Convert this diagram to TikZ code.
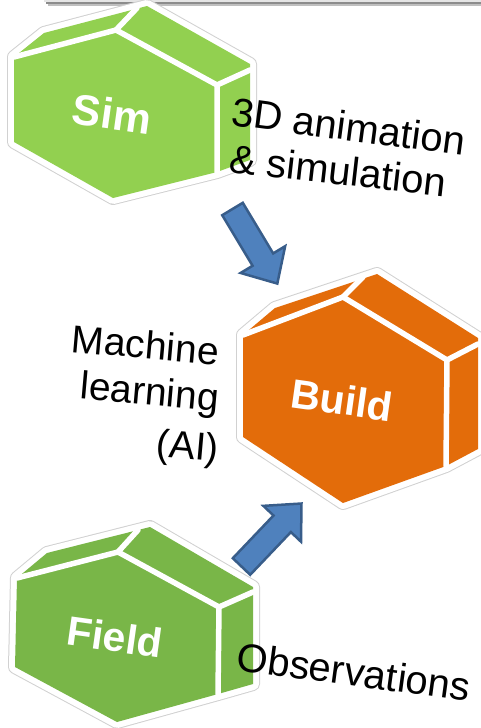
\documentclass[tikz,border=0pt]{standalone}
\usepackage{fontspec}
\setmainfont{Liberation Sans}
\definecolor{simgreen}{HTML}{92D050}
\definecolor{fieldgreen}{HTML}{79B648}
\definecolor{buildorange}{HTML}{E36C0A}
\definecolor{arrowfill}{HTML}{4F81BD}
\definecolor{arrowdraw}{HTML}{385D8A}
\tikzset{
  boxrim/.style={draw=black!18, line width=14pt, line join=round},
  boxwhite/.style={draw=white, line width=12pt, line join=round},
  boxedge/.style={draw=white, line width=5.5pt, line cap=round},
  blockarrow/.style={fill=arrowfill, draw=arrowdraw, line width=2.5pt, line join=miter},
  boxlabel/.style={text=white, font=\bfseries\fontsize{41}{41}\selectfont, rotate=-8, inner sep=0pt},
  caption/.style={font=\fontsize{40}{46}\selectfont, inner sep=0pt},
}
\newcommand{\arrowpoly}{(0,-12) -- (59,-12) -- (59,-26) -- (87,0) -- (59,26) -- (59,12) -- (0,12) -- cycle}
\begin{document}
\begin{tikzpicture}[x=1pt,y=-1pt]
\useasboundingbox (0,0) rectangle (481,728);
% top bar with shadow
\fill[black!45] (46,1.5) rectangle (481,4);
\fill[black!25] (48,4) rectangle (481,5.5);
\fill[black!10] (44,-2) rectangle (481,2);

% ---- Sim box ----
\coordinate (sA) at (14,57); \coordinate (sB) at (44,33); \coordinate (sC) at (147,6);
\coordinate (sD) at (250,64); \coordinate (sE) at (250,160); \coordinate (sJ) at (217,172);
\coordinate (sF) at (113,198); \coordinate (sG) at (14,142);
\coordinate (sH) at (116,30); \coordinate (sT) at (137,8); \coordinate (sI) at (217,85); \coordinate (sK) at (250,70);
\draw[boxrim] (sA) -- (sB) -- (sC) -- (sD) -- (sE) -- (sJ) -- (sF) -- (sG) -- cycle;
\draw[boxwhite] (sA) -- (sB) -- (sC) -- (sD) -- (sE) -- (sJ) -- (sF) -- (sG) -- cycle;
\fill[simgreen] (sA) -- (sB) -- (sC) -- (sD) -- (sE) -- (sJ) -- (sF) -- (sG) -- cycle;
\draw[boxedge] (sA) -- (sH) -- (sI) -- (sJ);
\draw[boxedge] (sH) -- (sT);
\draw[boxedge] (sI) -- (sK);
\node[boxlabel, font=\bfseries\fontsize{43}{43}\selectfont] (sim) at (112,114) {Sim};

% ---- Build box ----
\coordinate (bA) at (243,335); \coordinate (bB) at (275,308); \coordinate (bC) at (377,274);
\coordinate (bD) at (478,338); \coordinate (bE) at (478,449); \coordinate (bJ) at (446,466);
\coordinate (bF) at (343,503); \coordinate (bG) at (243,437);
\coordinate (bH) at (343,297); \coordinate (bT) at (363,277); \coordinate (bI) at (447,360); \coordinate (bK) at (478,344);
\draw[boxrim] (bA) -- (bB) -- (bC) -- (bD) -- (bE) -- (bJ) -- (bF) -- (bG) -- cycle;
\draw[boxwhite] (bA) -- (bB) -- (bC) -- (bD) -- (bE) -- (bJ) -- (bF) -- (bG) -- cycle;
\fill[buildorange] (bA) -- (bB) -- (bC) -- (bD) -- (bE) -- (bJ) -- (bF) -- (bG) -- cycle;
\draw[boxedge] (bA) -- (bH) -- (bI) -- (bJ);
\draw[boxedge] (bH) -- (bT);
\draw[boxedge] (bI) -- (bK);
\node[boxlabel] (build) at (342,400) {Build};

% ---- Field box ----
\coordinate (fA) at (17,578); \coordinate (fB) at (47,553); \coordinate (fC) at (150,527);
\coordinate (fD) at (253,587); \coordinate (fE) at (253,684); \coordinate (fJ) at (218,694);
\coordinate (fF) at (117,722); \coordinate (fG) at (15,667);
\coordinate (fH) at (118,552); \coordinate (fT) at (138,530); \coordinate (fI) at (219,607); \coordinate (fK) at (253,592);
\draw[boxrim] (fA) -- (fB) -- (fC) -- (fD) -- (fE) -- (fJ) -- (fF) -- (fG) -- cycle;
\draw[boxwhite] (fA) -- (fB) -- (fC) -- (fD) -- (fE) -- (fJ) -- (fF) -- (fG) -- cycle;
\fill[fieldgreen] (fA) -- (fB) -- (fC) -- (fD) -- (fE) -- (fJ) -- (fF) -- (fG) -- cycle;
\draw[boxedge] (fA) -- (fH) -- (fI) -- (fJ);
\draw[boxedge] (fH) -- (fT);
\draw[boxedge] (fI) -- (fK);
\node[boxlabel] (field) at (115,637) {Field};

% ---- block arrows ----
\coordinate (downtail) at (232.5,209);
\coordinate (uptail) at (241.5,566.5);
\draw[blockarrow, shift={(downtail)}, rotate=-59] \arrowpoly;
\draw[blockarrow, shift={(uptail)}, rotate=46.4] \arrowpoly;

% ---- captions ----
\node[caption, anchor=base west, rotate=-7.5] (anim1) at (230,125) {3D animation};
\node[caption, anchor=base west, rotate=-6.5] (anim2) at (228,172) {\& simulation};
\node[caption, anchor=base east, rotate=-5, font=\fontsize{39}{45}\selectfont] (ml1) at (218,365) {Machine};
\node[caption, anchor=base east, rotate=-5, font=\fontsize{39}{45}\selectfont] (ml2) at (218,411) {learning};
\node[caption, anchor=base east, rotate=-5, font=\fontsize{39}{45}\selectfont] (ml3) at (218,462) {(AI)};
\node[caption, anchor=base west, rotate=-7.7] (obs) at (235,670) {Observations};
\end{tikzpicture}
\end{document}
